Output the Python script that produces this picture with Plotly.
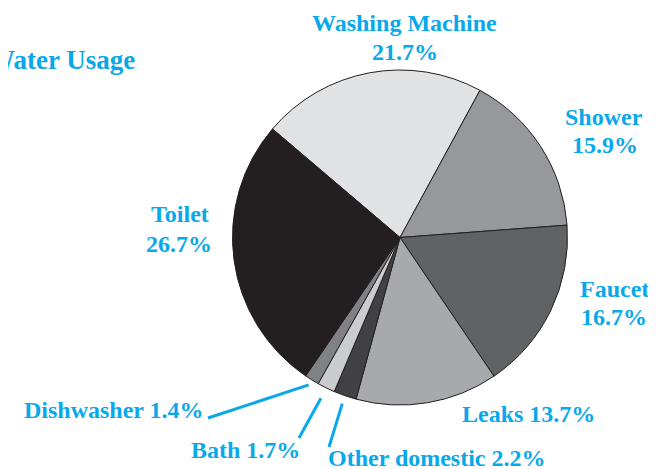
import math
import plotly.graph_objects as go

labels = ["Washing Machine", "Shower", "Faucet", "Leaks", "Other domestic", "Bath", "Dishwasher", "Toilet"]
values = [21.7, 15.9, 16.7, 13.7, 2.2, 1.7, 1.4, 26.7]
colors = ["#E1E2E4", "#97989B", "#616264", "#A8A9AC", "#414042", "#CBCCCE", "#808184", "#231F20"]

# page is 656x469; the figure sits 8px in from the top-left (body margin)
PW, PH, OFF = 656, 469, 8
W, H = PW - OFF, PH - OFF
CX, CY, R = 400, 237.5, 167.5
ROT = -49.6
BLUE = "#08A8EA"
FONT = "Liberation Serif"

def px(x):
    return (x - OFF) / W

def py(y):
    return 1 - (y - OFF) / H

fig = go.Figure()
fig.add_trace(go.Pie(
    labels=labels, values=values, sort=False, direction="clockwise", rotation=ROT,
    marker=dict(colors=colors, line=dict(color="#231F20", width=1)),
    textinfo="none", hoverinfo="label+percent", showlegend=False,
    domain=dict(x=[px(CX - R), px(CX + R)], y=[py(CY + R), py(CY - R)]),
))

# mid-angles of slices (clockwise from 12 o'clock)
total = sum(values)
mids = {}
acc = ROT
for lab, v in zip(labels, values):
    span = v / total * 360
    mids[lab] = acc + span / 2
    acc += span

def edge(lab, k):
    a = math.radians(mids[lab])
    return CX + k * R * math.sin(a), CY - k * R * math.cos(a)

pct = {lab: f"{v:.1f}%" for lab, v in zip(labels, values)}

# text lines: (text, x-center, y-center) in page pixels
lines = [
    ("Washing Machine", 404.5, 22.5), (pct["Washing Machine"], 404.5, 52),
    ("Shower", 603.5, 117), (pct["Shower"], 604.5, 144.5),
    ("Faucet", 614, 289), (pct["Faucet"], 613.5, 316.5),
    ("Toilet", 180, 213.5), (pct["Toilet"], 179, 244),
    ("Leaks " + pct["Leaks"], 528, 413.5),
    ("Dishwasher " + pct["Dishwasher"], 114, 410),
    ("Bath " + pct["Bath"], 245, 450),
    ("Other domestic " + pct["Other domestic"], 437, 458),
]
for t, x, y in lines:
    fig.add_annotation(x=x, y=y, xref="x", yref="y", text=f"<b>{t}</b>", showarrow=False,
                       font=dict(family=FONT, size=24, color=BLUE),
                       xanchor="center", yanchor="middle")

fig.add_annotation(x=137, y=60, xref="x", yref="y", text="<b>Water Usage</b>", showarrow=False,
                   font=dict(family=FONT, size=27, color=BLUE), xanchor="right", yanchor="middle")

leaders = [("Dishwasher", 1.035, (208, 418)), ("Bath", 1.07, (299, 438)), ("Other domestic", 1.05, (329, 447))]
for lab, k, (lx, ly) in leaders:
    ex, ey = edge(lab, k)
    fig.add_shape(type="line", xref="x", yref="y", x0=lx, y0=ly, x1=ex, y1=ey,
                  line=dict(color=BLUE, width=3))

fig.update_layout(
    width=W, height=H, margin=dict(l=0, r=0, t=0, b=0),
    paper_bgcolor="white", plot_bgcolor="rgba(0,0,0,0)",
    xaxis=dict(range=[OFF, PW], visible=False, fixedrange=True),
    yaxis=dict(range=[PH, OFF], visible=False, fixedrange=True),
)
fig.write_html("out.html")
